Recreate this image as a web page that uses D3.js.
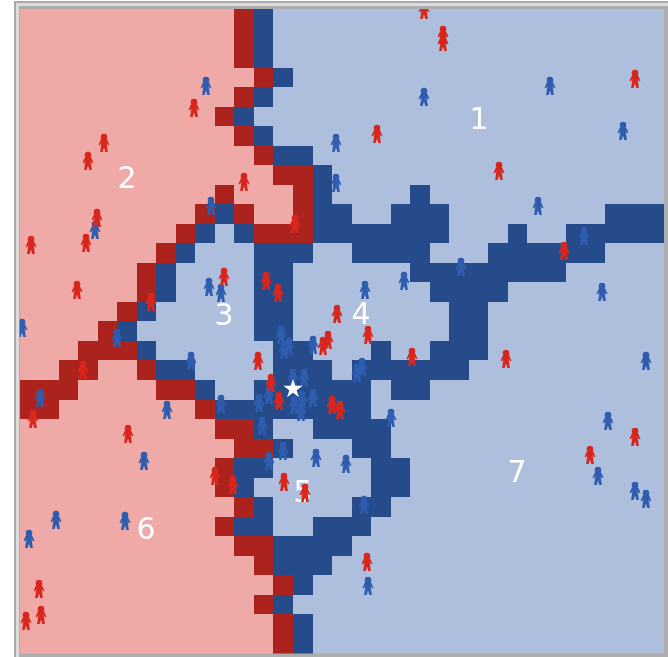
<!DOCTYPE html>
<html>
<head>
<meta charset="utf-8">
<script src="https://cdn.jsdelivr.net/npm/d3@7"></script>
<style>
  html, body { margin: 0; padding: 0; background: #fff; }
  svg { display: block; }
</style>
</head>
<body>
<svg id="chart" width="668" height="657"></svg>
<script>
// grid rows as runs, p = light red, b = light blue, R = dark red, B = dark blue
const gridRows = [
  "11p 1R 1B 20b", "11p 1R 1B 20b", "11p 1R 1B 20b", "12p 1R 1B 19b",
  "11p 1R 1B 20b", "10p 1R 1B 21b", "11p 1R 1B 20b", "12p 1R 2B 18b",
  "13p 2R 1B 17b", "10p 1R 3p 1R 1B 4b 1B 12b",
  "9p 1R 1B 1R 2p 1R 2B 2b 3B 8b 3B",
  "8p 1R 1B 1b 1B 3R 7B 3b 1B 2b 5B",
  "7p 1R 1B 3b 3B 2b 4B 3b 6B 3b",
  "6p 1R 1B 4b 2B 6b 8B 5b",
  "6p 1R 1B 4b 2B 7b 4B 8b",
  "5p 1R 1B 5b 2B 8b 2B 9b",
  "4p 1R 1B 6b 2B 8b 2B 9b",
  "3p 3R 1B 6b 2B 3b 1B 2b 3B 9b",
  "2p 2R 2p 1R 2B 4b 3B 1b 6B 10b",
  "3R 4p 2R 1B 2b 6B 1b 2B 12b",
  "2R 7p 1R 8B 15b",
  "10p 2R 1B 2b 4B 14b",
  "11p 2R 1B 3b 2B 14b",
  "10p 1R 2B 5b 2B 13b",
  "10p 1R 1B 6b 2B 13b",
  "11p 1R 1B 4b 2B 14b",
  "10p 1R 2B 2b 3B 15b",
  "11p 2R 4B 16b",
  "12p 1R 3B 17b",
  "13p 1R 1B 18b",
  "12p 1R 1B 19b",
  "13p 1R 1B 18b",
  "13p 1R 1B 18b"
];

const bluePeople = [
  [186,77],[191,197],[75,221],[189,278],[201,284],[2,319],[530,77],[404,88],[603,122],
  [316,134],[316,174],[518,197],[564,227],[441,258],[345,281],[384,272],[582,283],
  [97,329],[171,352],[20,389],[147,401],[201,395],[124,452],[242,417],[263,442],[249,452],
  [296,449],[36,511],[105,512],[9,530],[261,326],[264,341],[269,338],[293,336],[273,369],
  [284,369],[239,394],[249,386],[274,396],[282,391],[281,403],[293,389],[342,358],[337,364],
  [626,352],[371,409],[588,412],[326,455],[578,467],[615,482],[626,490],[344,496],[348,577]
];
const redPeople = [
  [174,99],[84,134],[68,152],[224,173],[77,209],[275,215],[11,236],[66,234],[57,281],
  [204,268],[246,272],[258,284],[131,293],[404,1],[423,26],[423,33],[615,70],[357,125],
  [479,162],[544,242],[317,305],[348,326],[63,361],[13,410],[108,425],[238,352],[251,374],
  [259,392],[195,467],[213,476],[264,473],[285,484],[19,580],[21,606],[6,612],[308,331],
  [303,337],[312,396],[320,401],[392,348],[486,350],[615,428],[570,446],[347,553]
];

const regionLabels = ["1", "2", "3", "4", "5", "6", "7"];
const labelX = [459, 107, 204, 341, 283, 126, 497];
const labelY = [120, 179, 316, 315, 493, 530, 473];
const starPoint = [273, 380];

const cellColor = { p: "#efaaa8", b: "#aebfde", R: "#ac241c", B: "#264b8b" };

const svg = d3.select("#chart");

// window chrome round the plot
svg.append("rect").attr("x", 14).attr("y", 1).attr("width", 654).attr("height", 656).attr("fill", "#a9a9a9");
svg.append("rect").attr("x", 16).attr("y", 3).attr("width", 652).attr("height", 654).attr("fill", "#dcdcdc");
svg.append("rect").attr("x", 19).attr("y", 6).attr("width", 649).attr("height", 651).attr("fill", "#adadad");

const n = gridRows.length;
const col = d3.scaleBand().domain(d3.range(n)).range([19.6, 664]);
const row = d3.scaleBand().domain(d3.range(n)).range([9, 653.4]);
const x = d3.scaleLinear().domain([0, 644]).range([20, 664]);
const y = d3.scaleLinear().domain([0, 644]).range([9, 653]);

const cells = [];
gridRows.forEach((runs, r) => {
  let c = 0;
  runs.split(" ").forEach(run => {
    const len = parseInt(run);
    const kind = run[run.length - 1];
    for (let i = 0; i < len; i++) cells.push({ r: r, c: c++, kind: kind });
  });
});

const defs = svg.append("defs");
defs.append("clipPath").attr("id", "plot")
  .append("rect").attr("x", 19.6).attr("y", 9).attr("width", 644.4).attr("height", 644.4);
// the picture is a slightly soft screenshot
defs.append("filter").attr("id", "soft")
  .attr("x", 0).attr("y", 0).attr("width", 1).attr("height", 1)
  .append("feGaussianBlur").attr("stdDeviation", 0.35);

const clip = svg.append("g").attr("clip-path", "url(#plot)");
const g = clip.append("g").attr("filter", "url(#soft)");

g.append("g").attr("shape-rendering", "crispEdges").selectAll("rect")
  .data(cells)
  .join("rect")
  .attr("x", d => col(d.c))
  .attr("y", d => row(d.r))
  .attr("width", col.bandwidth() + 0.5)
  .attr("height", row.bandwidth() + 0.5)
  .attr("fill", d => cellColor[d.kind]);

// Labels
g.append("g").selectAll("text")
  .data(regionLabels)
  .join("text")
  .attr("x", (d, i) => x(labelX[i]))
  .attr("y", (d, i) => y(labelY[i]))
  .attr("text-anchor", "middle")
  .attr("font-family", "DejaVu Sans")
  .attr("font-size", 30)
  .attr("fill", "#fff")
  .text(d => d);

// little person, centred on its point
const personPath = "M-3,-3.8 L3,-3.8 L5.4,1.6 L4,2.6 L2.7,-0.2 L3,3 L3.9,9 L1.3,9 L0,4.4 L-1.3,9 L-3.9,9 L-3,3 L-2.7,-0.2 L-4,2.6 L-5.4,1.6 Z " +
  "M3.3,-6 A3.3,3.3 0 1 1 -3.3,-6 A3.3,3.3 0 1 1 3.3,-6 Z";

function drawPeople(people, color) {
  g.append("g").selectAll("path")
    .data(people)
    .join("path")
    .attr("d", personPath)
    .attr("transform", d => `translate(${x(d[0])},${y(d[1])})`)
    .attr("fill", color);
}
drawPeople(bluePeople, "#2f5cae");
drawPeople(redPeople, "#d9281f");

// Star
g.append("path")
  .attr("d", d3.symbol(d3.symbolStar, 115))
  .attr("transform", `translate(${x(starPoint[0])},${y(starPoint[1])})`)
  .attr("fill", "#fff");
</script>
</body>
</html>
